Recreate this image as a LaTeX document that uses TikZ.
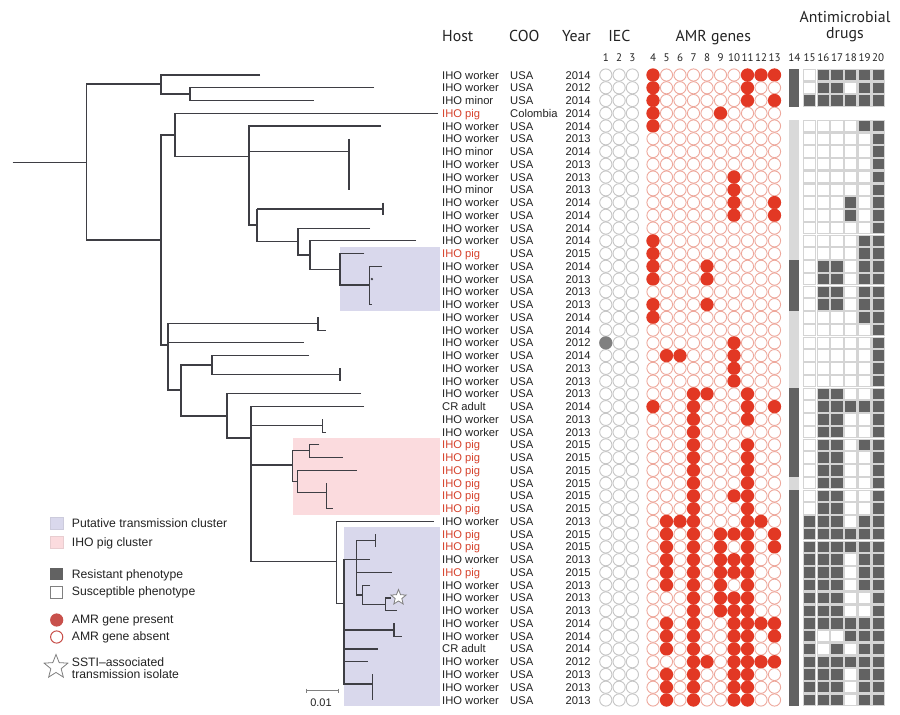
\documentclass[tikz,border=0pt]{standalone}
\usepackage{fontspec}
\setmainfont{Liberation Sans}
\newfontfamily\hdfont{PT Sans}
\usetikzlibrary{shapes.geometric}
\definecolor{amrred}{RGB}{226,56,36}
\definecolor{amrabs}{RGB}{238,168,156}
\definecolor{iecc}{RGB}{198,198,198}
\definecolor{iecfill}{RGB}{128,128,128}
\definecolor{dkcell}{RGB}{98,98,98}
\definecolor{ltbar}{RGB}{217,217,217}
\definecolor{cellline}{RGB}{212,212,212}
\definecolor{bluebox}{RGB}{217,216,236}
\definecolor{pinkbox}{RGB}{251,219,222}
\definecolor{treec}{RGB}{62,62,68}
\definecolor{pigred}{RGB}{214,66,44}
\definecolor{txt}{RGB}{35,35,35}
\definecolor{legred}{RGB}{200,80,75}
\def\R#1{62.245+#1*12.755}
\begin{document}
\begin{tikzpicture}[x=1pt,y=-1pt,
  br/.style={draw=treec,line width=1.1pt},
  rowtxt/.style={font=\fontsize{11.2}{13}\selectfont,inner sep=0pt},
  hdtxt/.style={font=\hdfont\fontsize{15.8}{17}\selectfont,inner sep=0pt,text=txt},
  numtxt/.style={font=\hdfont\fontsize{11}{13}\selectfont,inner sep=0pt,text=txt,anchor=base},
  legtxt/.style={font=\fontsize{12.2}{13}\selectfont,inner sep=0pt,text=txt,anchor=base west},
  cell/.style={draw=cellline,line width=1.1pt}]
\useasboundingbox (0,0) rectangle (900,715);
\fill[white] (0,0) rectangle (900,715);

% cluster boxes
\fill[bluebox] (340,247.3) rectangle (440,311);
\fill[pinkbox] (292.7,438.3) rectangle (440,515);
\fill[bluebox] (344,527.3) rectangle (440,706);

% ---------- tree ----------
\draw[br] (12.7,162.3) -- (86.7,162.3);
\draw[br] (161,84) -- (86.7,84) -- (86.7,240) -- (161,240);
\draw[br] (260,\R1) -- (161,\R1) -- (161,94) -- (190,94);
\draw[br] (374,\R2) -- (190,\R2) -- (190,\R3) -- (314,\R3);
\draw[br] (175,135) -- (161,135) -- (161,345) -- (168,345);
\draw[br] (438,\R4) -- (175,\R4) -- (175,156.7) -- (249,156.7);
\draw[br] (381,\R5) -- (249,\R5) -- (249,225) -- (257,225);
\draw[br] (249,\R7) -- (349,\R7);
\draw[br] (349,\R6) -- (349,\R{10});
\draw[br] (257,209) -- (383,209);
\draw[br] (383,\R{11}) -- (383,\R{12});
\draw[br] (257,209) -- (257,241.7) -- (298,241.7);
\draw[br] (370,\R{13}) -- (298,\R{13}) -- (298,255) -- (310,255);
\draw[br] (416,\R{14}) -- (310,\R{14}) -- (310,269.3) -- (340,269.3);
\draw[br] (364.3,\R{15}) -- (340,\R{15}) -- (340,285) -- (369.3,285);
\draw[br] (382.3,\R{16}) -- (369.3,\R{16}) -- (369.3,\R{19}) -- (371.7,\R{19});
\fill[treec] (371.9,\R{17}) circle (1.3);
\draw[br] (318,323.7) -- (168,323.7) -- (168,390) -- (181,390);
\draw[br] (168,\R{22}) -- (304,\R{22});
\draw[br] (318,\R{20}) -- (318,\R{21}) -- (326,\R{21});
\draw[br] (212,365) -- (181,365) -- (181,416) -- (227,416);
\draw[br] (309,\R{23}) -- (212,\R{23}) -- (212,374.7) -- (340,374.7);
\draw[br] (340,\R{24}) -- (340,\R{25});
\draw[br] (361,\R{26}) -- (227,\R{26}) -- (227,438) -- (251,438);
\draw[br] (364,\R{27}) -- (251,\R{27}) -- (251,561.7) -- (336.7,561.7);
\draw[br] (251,425.8) -- (322.7,425.8);
\draw[br] (322.7,\R{28}) -- (322.7,\R{29}) -- (325.5,\R{29});
\draw[br] (251,465) -- (292.7,465);
\draw[br] (309.3,450.7) -- (292.7,450.7) -- (292.7,481.7) -- (297.3,481.7);
\draw[br] (319.3,\R{30}) -- (309.3,\R{30}) -- (309.3,\R{31}) -- (343.3,\R{31});
\draw[br] (356.7,\R{32}) -- (297.3,\R{32}) -- (297.3,492.3) -- (326.7,492.3);
\draw[br] (326.7,\R{33}) -- (326.7,\R{35}) -- (332.7,\R{35});
\draw[br] (434,\R{36}) -- (336.7,\R{36}) -- (336.7,603.3) -- (344,603.3);
\draw[br] (356.7,\R{39}) -- (344,\R{39}) -- (344,684) -- (372.7,684);
\draw[br] (375.7,540.6) -- (356.7,540.6) -- (356.7,595) -- (362.3,595);
\draw[br] (375.7,\R{37}) -- (375.7,\R{38});
\draw[br] (356.7,\R{39}) -- (370,\R{39});
\draw[br] (356.7,\R{40}) -- (391.7,\R{40});
\draw[br] (370,\R{41}) -- (362.3,\R{41}) -- (362.3,604.3) -- (385.7,604.3);
\draw[br] (390.7,\R{42}) -- (385.7,\R{42}) -- (385.7,\R{43}) -- (396.7,\R{43});
\node[star,star points=5,star point ratio=2.3,minimum size=16pt,inner sep=0pt,draw=gray,line width=0.8pt,fill=white] (treestar) at (398.5,597.5) {};
\draw[br] (344,630) -- (394,630);
\draw[br] (394,\R{44}) -- (394,\R{45}) -- (401.7,\R{45});
\draw[br] (344,\R{46}) -- (378.3,\R{46});
\draw[br] (344,\R{47}) -- (367.7,\R{47});
\draw[br] (372.7,\R{48}) -- (372.7,\R{50});

% scale bar
\draw[gray,line width=0.8pt] (306.7,690.7) -- (338.3,690.7);
\draw[gray,line width=0.8pt] (306.7,688.5) -- (306.7,692.9);
\draw[gray,line width=0.8pt] (338.3,688.5) -- (338.3,692.9);
\node[font=\fontsize{11}{12}\selectfont,text=txt,inner sep=0pt] (scale) at (321,703) {0.01};

% ---------- headers ----------
\node[hdtxt,anchor=base west] (hHost) at (442,41.5) {Host};
\node[hdtxt,anchor=base west] (hCOO) at (509,41.5) {COO};
\node[hdtxt,anchor=base east] (hYear) at (591,41.5) {Year};
\node[hdtxt,anchor=base] (hIEC) at (619.3,41.5) {IEC};
\node[hdtxt,anchor=base] (hAMR) at (713.3,41.5) {AMR genes};
\node[hdtxt,anchor=base] (hAnti) at (845,22.5) {Antimicrobial};
\node[hdtxt,anchor=base] (hDrugs) at (845,38) {drugs};
\foreach \i in {1,2,3} \node[numtxt] (n\i) at ({605.8+(\i-1)*13.3},61) {\i};
\foreach \i in {4,...,13} \node[numtxt] (n\i) at ({653+(\i-4)*13.5},61) {\i};
\node[numtxt] (n14) at (794.3,61) {14};
\foreach \i in {15,...,20} \node[numtxt] (n\i) at ({809.7+(\i-15)*13.7},61) {\i};

% ---------- column 14 bar ----------
\fill[dkcell] (789.3,68.6) rectangle (799.3,106.9);
\fill[ltbar] (789.3,119.6) rectangle (799.3,260);
\fill[dkcell] (789.3,260) rectangle (799.3,311);
\fill[ltbar] (789.3,311) rectangle (799.3,387.5);
\fill[dkcell] (789.3,387.5) rectangle (799.3,476.8);
\fill[ltbar] (789.3,476.8) rectangle (799.3,489.5);
\fill[dkcell] (789.3,489.5) rectangle (799.3,706.4);

% ---------- rows ----------
\foreach \n/\h/\c/\co/\yr/\amr/\dr in {
1/IHO worker/0/USA/2014/{4,11,12,13}/{0,1,1,1,1,1},
2/IHO worker/0/USA/2012/{4,11}/{0,1,1,0,1,1},
3/IHO minor/0/USA/2014/{4,11,13}/{1,1,1,1,1,1},
4/IHO pig/1/Colombia/2014/{4,9}/{9},
5/IHO worker/0/USA/2014/{4}/{0,0,0,0,1,1},
6/IHO worker/0/USA/2013/{0}/{0,0,0,0,0,1},
7/IHO minor/0/USA/2014/{0}/{0,0,0,0,0,1},
8/IHO worker/0/USA/2013/{0}/{0,0,0,0,0,1},
9/IHO worker/0/USA/2013/{10}/{0,0,0,0,0,1},
10/IHO minor/0/USA/2013/{10}/{0,0,0,0,0,1},
11/IHO worker/0/USA/2014/{10,13}/{0,0,0,1,0,1},
12/IHO worker/0/USA/2014/{10,13}/{0,0,0,1,0,1},
13/IHO worker/0/USA/2014/{0}/{0,0,0,0,0,1},
14/IHO worker/0/USA/2014/{4}/{0,0,0,0,1,1},
15/IHO pig/1/USA/2015/{4}/{0,0,0,0,1,1},
16/IHO worker/0/USA/2014/{4,8}/{0,1,1,0,1,1},
17/IHO worker/0/USA/2013/{4,8}/{0,1,1,0,1,1},
18/IHO worker/0/USA/2013/{0}/{0,1,1,0,1,1},
19/IHO worker/0/USA/2013/{4,8}/{0,1,1,0,1,1},
20/IHO worker/0/USA/2014/{4}/{0,0,0,0,1,1},
21/IHO worker/0/USA/2014/{0}/{0,0,0,0,0,1},
22/IHO worker/0/USA/2012/{10}/{0,0,0,0,0,1},
23/IHO worker/0/USA/2014/{5,6,10}/{0,0,0,0,0,1},
24/IHO worker/0/USA/2013/{10}/{0,0,0,0,0,1},
25/IHO worker/0/USA/2013/{10}/{0,0,0,0,0,1},
26/IHO worker/0/USA/2013/{7,8,11}/{0,1,1,0,0,1},
27/CR adult/0/USA/2014/{4,7,11,13}/{0,1,1,1,1,1},
28/IHO worker/0/USA/2013/{7,11}/{0,1,1,0,0,1},
29/IHO worker/0/USA/2013/{7}/{0,1,1,0,0,1},
30/IHO pig/1/USA/2015/{7,11}/{0,1,1,0,1,1},
31/IHO pig/1/USA/2015/{7,11}/{0,1,1,0,0,1},
32/IHO pig/1/USA/2015/{7,11}/{0,1,1,0,0,1},
33/IHO pig/1/USA/2015/{7,11}/{0,1,1,0,0,1},
34/IHO pig/1/USA/2015/{7,10,11}/{0,1,1,0,0,1},
35/IHO pig/1/USA/2015/{7,11}/{0,1,1,0,0,1},
36/IHO worker/0/USA/2013/{5,6,7,11,12}/{1,1,1,0,1,1},
37/IHO pig/1/USA/2015/{5,7,9,10,11,13}/{1,1,1,1,1,1},
38/IHO pig/1/USA/2015/{5,7,9,11,13}/{1,1,1,1,1,1},
39/IHO worker/0/USA/2013/{5,7,9,10,11}/{1,1,1,0,1,1},
40/IHO pig/1/USA/2015/{5,7,9,10,11}/{1,1,1,0,1,1},
41/IHO worker/0/USA/2013/{5,7,9,11}/{1,1,1,0,1,1},
42/IHO worker/0/USA/2013/{7,9,10,11}/{1,1,1,0,0,1},
43/IHO worker/0/USA/2013/{7,9,10,11}/{1,1,1,0,0,1},
44/IHO worker/0/USA/2014/{5,7,10,11,12,13}/{1,1,1,1,1,1},
45/IHO worker/0/USA/2014/{5,7,10,11,13}/{1,0,0,1,1,1},
46/CR adult/0/USA/2014/{5,7,10,11}/{1,0,1,0,1,1},
47/IHO worker/0/USA/2012/{7,8,10,11,12,13}/{1,1,1,1,1,1},
48/IHO worker/0/USA/2013/{5,7,10,11}/{1,1,1,0,1,1},
49/IHO worker/0/USA/2013/{5,7,10,11}/{1,1,1,0,1,1},
50/IHO worker/0/USA/2013/{5,7,10,11}/{1,1,1,0,1,1}}
{
  \pgfmathsetmacro\yy{62.245+\n*12.755}
  \ifnum\c=1 \def\hc{pigred}\else\def\hc{txt}\fi
  \node[rowtxt,anchor=base west,text=\hc] (host\n) at (442,\yy+4) {\h};
  \node[rowtxt,anchor=base west,text=txt] (coo\n) at (510,\yy+4) {\co};
  \node[rowtxt,anchor=base east,text=txt] (year\n) at (590.7,\yy+4) {\yr};
  \foreach \i in {1,2,3} \draw[iecc,line width=0.9pt] ({605.8+(\i-1)*13.3},\yy) circle (6.1);
  \foreach \i in {4,...,13} \draw[amrabs,line width=0.9pt] ({653+(\i-4)*13.5},\yy) circle (6.1);
  \foreach \g in \amr {\ifnum\g>0 \fill[amrred] ({653+(\g-4)*13.5},\yy) circle (6.6);\fi}
  \ifnum\n=4 \else
    \foreach \d [count=\k] in \dr {
      \pgfmathsetmacro\xx{809.7+(\k-1)*13.7}
      \ifnum\d=1 \def\fc{dkcell}\else\def\fc{white}\fi
      \filldraw[cell,fill=\fc] (\xx-6.2,\yy-5.75) rectangle (\xx+6.2,\yy+5.75);
    }
  \fi
}
\fill[iecfill] (605.8,\R{22}) circle (6.6);

% ---------- legend ----------
\filldraw[fill=bluebox,draw=bluebox!85!gray,line width=0.6pt] (50,517.3) rectangle (63.3,529.3);
\node[legtxt] (lg1) at (71.7,527.3) {Putative transmission cluster};
\filldraw[fill=pinkbox,draw=pinkbox!85!gray,line width=0.6pt] (50,536) rectangle (63.3,548);
\node[legtxt] (lg2) at (71.7,546) {IHO pig cluster};
\fill[dkcell] (50,568.3) rectangle (63.3,580);
\node[legtxt] (lg3) at (71.7,578.3) {Resistant phenotype};
\draw[gray,line width=1pt] (50.5,586.5) rectangle (62.8,598);
\node[legtxt] (lg4) at (71.7,595.6) {Susceptible phenotype};
\fill[legred] (56.7,620) circle (6.6);
\node[legtxt] (lg5) at (71.7,623.8) {AMR gene present};
\draw[legred,line width=1pt] (56.7,637) circle (6.1);
\node[legtxt] (lg6) at (71.7,640.8) {AMR gene absent};
\node[star,star points=5,star point ratio=2.3,minimum size=25pt,inner sep=0pt,draw=gray,line width=0.8pt,fill=white] (legstar) at (56,667) {};
\node[legtxt] (lg7) at (71.7,666) {SSTI–associated};
\node[legtxt] (lg8) at (71.7,678.3) {transmission isolate};
\end{tikzpicture}
\end{document}
